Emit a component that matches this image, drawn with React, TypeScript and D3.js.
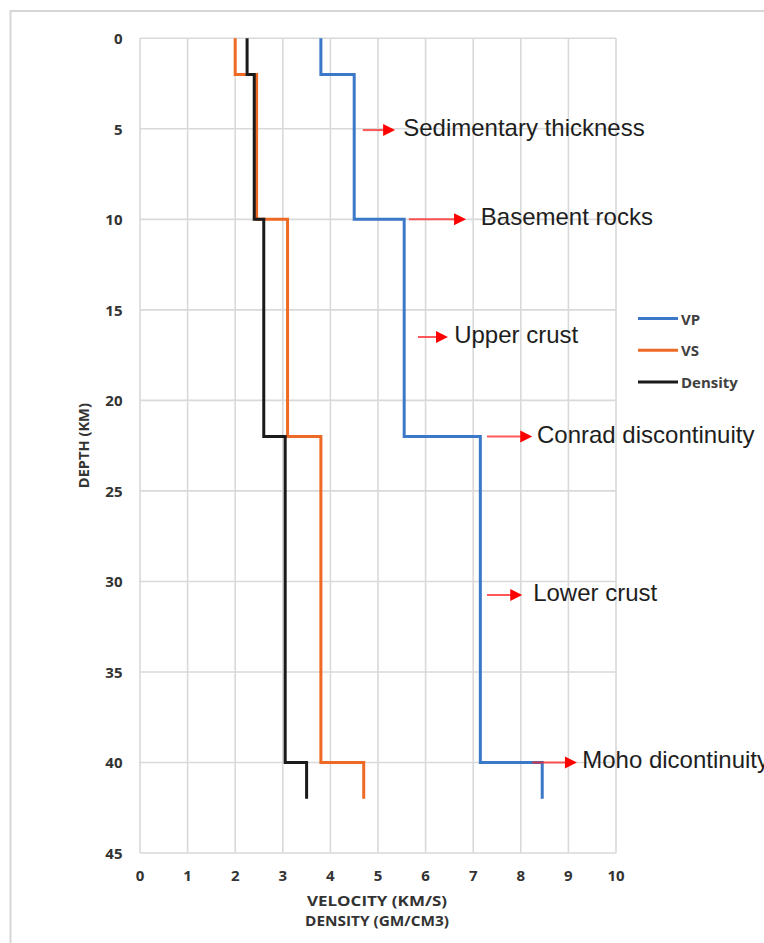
import React from "react";
import * as d3 from "d3";

// Layer boundaries (depth, km)
const layerTops = [0, 2, 10, 22, 40];
const layerBottoms = [2, 10, 22, 40, 42];

// Series values per layer
const vpValues = [3.8, 4.5, 5.55, 7.15, 8.45];
const vsValues = [2.0, 2.45, 3.1, 3.8, 4.7];
const densityValues = [2.25, 2.4, 2.6, 3.05, 3.5];

const seriesNames = ["VP", "VS", "Density"];
const seriesColors = ["#3C78C8", "#EE6A24", "#1a1a1a"];

const xTicks = [0, 1, 2, 3, 4, 5, 6, 7, 8, 9, 10];
const yTicks = [0, 5, 10, 15, 20, 25, 30, 35, 40, 45];

// Annotations: label, depth, arrow start/end (velocity units), text start
const annLabels = [
  "Sedimentary thickness",
  "Basement rocks",
  "Upper crust",
  "Conrad discontinuity",
  "Lower crust",
  "Moho dicontinuity",
];
const annDepths = [5.07, 10.0, 16.5, 22.0, 30.75, 40.0];
const annFrom = [4.68, 5.65, 5.84, 7.29, 7.29, 8.24];
const annTo = [5.36, 6.85, 6.47, 8.24, 8.03, 9.18];
const annText = [5.53, 7.16, 6.6, 8.34, 8.26, 9.29];

const xTitle1 = "VELOCITY (KM/S)";
const xTitle2 = "DENSITY (GM/CM3)";
const yTitle = "DEPTH (KM)";

const W = 764;
const H = 943;
const left = 140;
const right = 616;
const top = 38.3;
const bottom = 853;

export default function App() {
  const x = d3.scaleLinear().domain([0, 10]).range([left, right]);
  const y = d3.scaleLinear().domain([0, 45]).range([top, bottom]);

  const profile = (vals: number[]) => {
    const pts: [number, number][] = [];
    vals.forEach((v, i) => {
      pts.push([v, layerTops[i]]);
      pts.push([v, layerBottoms[i]]);
    });
    return d3
      .line<[number, number]>()
      .x((d) => x(d[0]))
      .y((d) => y(d[1]))(pts) as string;
  };

  const series = [vpValues, vsValues, densityValues];
  const tickFont = "'Open Sans', 'DejaVu Sans', sans-serif";

  return (
    <svg
      width={W}
      height={H}
      style={{ position: "absolute", left: 0, top: 0, background: "#fff" }}
    >
      <rect x={0} y={0} width={W} height={H} fill="#fff" />
      <rect
        x={10.5}
        y={11}
        width={900}
        height={1000}
        fill="none"
        stroke="#d6d6d6"
        strokeWidth={2}
      />
      {/* grid */}
      <g stroke="#d9d9d9" strokeWidth={1.6}>
        {xTicks.map((t) => (
          <line key={"gx" + t} x1={x(t)} x2={x(t)} y1={y(0)} y2={y(45)} />
        ))}
        {yTicks.map((t) => (
          <line key={"gy" + t} x1={x(0)} x2={x(10)} y1={y(t)} y2={y(t)} />
        ))}
      </g>
      {/* tick labels */}
      <g fontFamily={tickFont} fontWeight={700} fontSize={15} fill="#333">
        {yTicks.map((t) => (
          <text
            key={"ty" + t}
            x={122.5}
            y={y(t)}
            textAnchor="end"
            dominantBaseline="central"
          >
            {t}
          </text>
        ))}
        {xTicks.map((t) => (
          <text
            key={"tx" + t}
            x={x(t)}
            y={875}
            textAnchor="middle"
            dominantBaseline="central"
          >
            {t}
          </text>
        ))}
      </g>
      {/* axis titles */}
      <g fontFamily={tickFont} fontWeight={700} fontSize={13.5} fill="#333">
        <text
          x={377}
          y={901}
          textAnchor="middle"
          dominantBaseline="central"
          textLength={140}
          lengthAdjust="spacingAndGlyphs"
        >
          {xTitle1}
        </text>
        <text
          x={377}
          y={921}
          textAnchor="middle"
          dominantBaseline="central"
          textLength={144}
          lengthAdjust="spacingAndGlyphs"
        >
          {xTitle2}
        </text>
        <text
          transform={`translate(84,${(top + bottom) / 2}) rotate(-90)`}
          textAnchor="middle"
          dominantBaseline="central"
          textLength={85}
          lengthAdjust="spacingAndGlyphs"
        >
          {yTitle}
        </text>
      </g>
      {/* series */}
      {series.map((vals, i) => (
        <path
          key={"s" + i}
          d={profile(vals)}
          fill="none"
          stroke={seriesColors[i]}
          strokeWidth={3}
          strokeLinejoin="miter"
        />
      ))}
      {/* legend */}
      <g fontFamily={tickFont} fontWeight={700} fontSize={15} fill="#404040">
        {seriesNames.map((n, i) => (
          <g key={"lg" + i} transform={`translate(0,${318.5 + i * 31.8})`}>
            <line x1={638} x2={678} y1={0} y2={0} stroke={seriesColors[i]} strokeWidth={3} />
            <text x={681} y={0} dominantBaseline="central">
              {n}
            </text>
          </g>
        ))}
      </g>
      {/* annotations */}
      <g>
        {annLabels.map((lab, i) => {
          const yy = y(annDepths[i]);
          const x0 = x(annFrom[i]);
          const x1 = x(annTo[i]);
          return (
            <g key={"a" + i}>
              <line
                x1={x0}
                x2={x1 - 10}
                y1={yy}
                y2={yy}
                stroke="#ff2020"
                strokeOpacity={0.75}
                strokeWidth={2}
              />
              <path
                d={`M${x1 - 12},${yy - 6} L${x1},${yy} L${x1 - 12},${yy + 6} Z`}
                fill="#ff0000"
              />
              <text
                x={x(annText[i])}
                y={yy + 6}
                fontFamily="'Liberation Sans', Arial, sans-serif"
                fontSize={24}
                fill="#1e1e1e"
              >
                {lab}
              </text>
            </g>
          );
        })}
      </g>
    </svg>
  );
}
